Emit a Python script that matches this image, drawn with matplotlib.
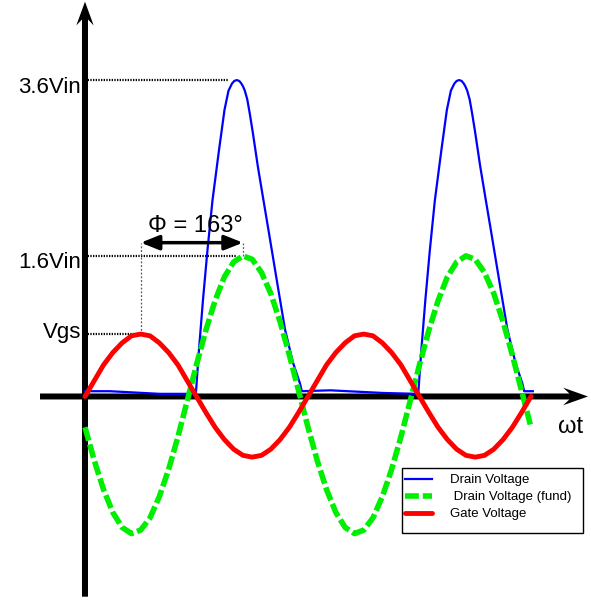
import numpy as np
import matplotlib
matplotlib.use('Agg')
import matplotlib.pyplot as plt
from matplotlib.patches import Rectangle

plt.rcParams['font.family'] = ['Liberation Sans', 'DejaVu Sans']

# Фаза wt в градусах, напряжения в единицах Vin
wt = np.arange(0, 721, 15)

# Напряжение на затворе (Gate Voltage)
gate = [0.00, 0.18, 0.36, 0.50, 0.61, 0.69, 0.71, 0.69, 0.61, 0.50, 0.36, 0.18,
        0.00, -0.18, -0.35, -0.49, -0.60, -0.67, -0.69, -0.67, -0.60, -0.49, -0.35, -0.18,
        0.00, 0.18, 0.36, 0.50, 0.61, 0.69, 0.71, 0.69, 0.61, 0.50, 0.36, 0.18,
        0.00, -0.18, -0.35, -0.49, -0.60, -0.67, -0.69, -0.67, -0.60, -0.49, -0.35, -0.18,
        0.00]

# Первая гармоника напряжения на стоке (fund)
fund = [-0.35, -0.73, -1.06, -1.32, -1.49, -1.56, -1.52, -1.38, -1.14, -0.83, -0.46, -0.05,
        0.36, 0.75, 1.09, 1.36, 1.53, 1.60, 1.56, 1.41, 1.17, 0.85, 0.47, 0.06,
        -0.35, -0.73, -1.06, -1.32, -1.49, -1.56, -1.52, -1.38, -1.14, -0.83, -0.46, -0.05,
        0.36, 0.75, 1.09, 1.36, 1.53, 1.60, 1.56, 1.41, 1.17, 0.85, 0.47, 0.06,
        -0.35]

# Напряжение на стоке (Drain Voltage), своя сетка по фазе
drain_wt = [0, 40, 121, 178, 179.2, 184, 190.5, 197.8, 205.8, 216.3, 225.2,
            231.7, 237.3, 241, 245, 249, 252, 255, 258, 262, 266, 271,
            279, 287, 297, 305, 313, 323, 336, 347, 350,
            396, 481, 537, 538.2, 543, 549.5, 556.8, 564.8, 575.3, 584.2,
            590.7, 596.3, 600, 604, 608, 611, 614, 617, 621, 625, 630,
            638, 646, 656, 664, 672, 682, 695, 706, 709, 723]
drain = [0.06, 0.06, 0.03, 0.03, 0.05, 0.53, 1.10, 1.67, 2.23, 2.80, 3.26,
         3.48, 3.56, 3.59, 3.60, 3.59, 3.565, 3.53, 3.48, 3.38, 3.22, 3.00,
         2.62, 2.28, 1.86, 1.52, 1.18, 0.76, 0.38, 0.15, 0.06,
         0.07, 0.04, 0.03, 0.05, 0.53, 1.10, 1.67, 2.23, 2.80, 3.26,
         3.48, 3.56, 3.59, 3.60, 3.59, 3.565, 3.53, 3.48, 3.38, 3.22, 3.00,
         2.62, 2.28, 1.86, 1.52, 1.18, 0.76, 0.38, 0.15, 0.06, 0.06]

# Уровни на оси напряжений
levels = [3.6, 1.6, 0.71]
level_labels = ['3.6Vin', '1.6Vin', 'Vgs']
phase_text = 'Φ = 163°'

fig = plt.figure(figsize=(5.91, 6.01), dpi=100)
ax = fig.add_axes([0, 0, 1, 1])
ax.set_xlim(-137.2, 816.9)
ax.set_ylim(-2.327, 4.511)
ax.axis('off')

# Оси со стрелками
ax.arrow(-72.6, 0, 884.6, 0, width=0.068, head_width=0.2, head_length=40,
         length_includes_head=True, overhang=0.25, color='k', lw=0, zorder=2)
ax.arrow(0, -2.278, 0, 6.77, width=9.7, head_width=28, head_length=0.27,
         length_includes_head=True, overhang=0.25, color='k', lw=0, zorder=2)

# Кривые
l_drain, = ax.plot(drain_wt, drain, color='#0000ff', lw=1.6, zorder=3,
                   label='Drain Voltage')
l_fund, = ax.plot(wt, fund, color='#00ee00', lw=4, ls=(0, (2.5, 0.7)),
                  dash_capstyle='butt', zorder=4, label=' Drain Voltage (fund)')
l_gate, = ax.plot(wt, gate, color='#ff0000', lw=3.5, solid_capstyle='round',
                  zorder=5, label='Gate Voltage')

# Пики кривых
i_d = int(np.argmax(drain))
i_f = int(np.argmax(fund[:24]))
i_g = int(np.argmax(gate[:24]))
peak_x = [drain_wt[i_d] - 14, wt[i_f] - 12, wt[i_g]]

# Пунктирные выноски уровней и подписи
offsets = [-9.5, -9, -3]
for lvl, lab, xe, dy in zip(levels, level_labels, peak_x, offsets):
    ax.plot([0, xe], [lvl, lvl], color='k', lw=1.6, ls=(0, (0.6, 0.6)), zorder=1)
    ax.annotate(lab, xy=(0, lvl), xytext=(-3, dy), textcoords='offset points',
                ha='right', va='baseline', fontsize=16)

# Разность фаз между затвором и первой гармоникой стока
y_arr = 1.75
ax.plot([wt[i_g], wt[i_g]], [gate[i_g], y_arr], color='0.35', lw=0.9,
        ls=(0, (1.5, 1.5)), zorder=1)
ax.plot([wt[i_f], wt[i_f]], [fund[i_f], y_arr], color='0.35', lw=0.9,
        ls=(0, (1.5, 1.5)), zorder=1)
ax.annotate('', xy=(wt[i_f], y_arr), xytext=(wt[i_g], y_arr),
            arrowprops=dict(arrowstyle='<|-|>,head_length=0.55,head_width=0.22',
                            mutation_scale=20, lw=2.5, color='k',
                            shrinkA=0, shrinkB=0), zorder=6)
ax.text(wt[i_g] + 11, y_arr + 0.12, phase_text, ha='left', va='baseline',
        fontsize=17)

ax.text(784, -0.415, 'ωt', ha='center', va='baseline', fontsize=17)

# Легенда
ax.legend(handles=[l_drain, l_fund, l_gate], loc='upper left',
          bbox_to_anchor=(405 / 591, 1 - 474 / 601), bbox_transform=fig.transFigure,
          frameon=False, fontsize=9.5, handlelength=2.05, handletextpad=1.36,
          labelspacing=0.36, borderpad=0, borderaxespad=0)
ax.add_patch(Rectangle((402 / 591, 1 - 533 / 601), 181 / 591, 65 / 601,
                       transform=ax.transAxes, fill=False, ec='k', lw=1,
                       clip_on=False, zorder=7))

fig.savefig('out.png', dpi=100)
